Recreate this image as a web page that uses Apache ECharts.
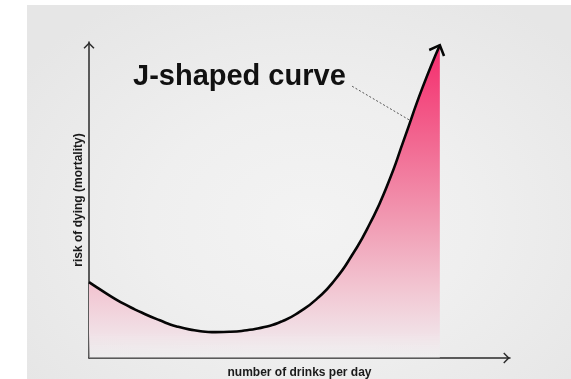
<!DOCTYPE html>
<html>
<head>
<meta charset="utf-8">
<title>J-shaped curve</title>
<script src="https://cdn.jsdelivr.net/npm/echarts@6/dist/echarts.min.js"></script>
<style>
  html, body { margin: 0; padding: 0; background: #ffffff; }
  #wrap { position: relative; width: 571px; height: 379px; overflow: hidden; }
  #panel {
    position: absolute; left: 27px; top: 5px; right: 0; bottom: 0;
    background: radial-gradient(ellipse 65% 70% at 52% 58%, #f3f3f3 0%, #efefef 45%, #e6e6e6 100%);
  }
  #chart { position: absolute; left: 0; top: 0; width: 571px; height: 379px; }
</style>
</head>
<body>
<div id="wrap">
  <div id="panel"></div>
  <div id="chart"></div>
</div>
<script>
// Drinks per day (x) and relative mortality risk (y) along the curve
const drinks = [0, 0.5, 1, 1.5, 2, 2.5, 3, 3.5, 4, 4.5, 5, 5.5, 6, 6.5, 7, 7.5, 8, 8.5, 9, 9.5, 10];
const risk   = [24, 20.4, 17.1, 14.4, 12.0, 10.0, 8.8, 8.2, 8.3, 8.8, 9.8, 11.6, 14.6, 18.8, 24.6, 32.6, 42.4, 54.6, 69.8, 85.4, 99];

// Axis extents and labels
const xMax = 12;
const yMax = 100;
const xTitle = 'number of drinks per day';
const yTitle = 'risk of dying (mortality)';

// Annotation text and the leader line from the text to the curve
const noteText = 'J-shaped curve';
const noteFrom = [7.5, 86];
const noteTo = [9.15, 75.2];

// Open chevron used for arrow heads (points up in path space)
const chevron = 'path://M0,9 L9,0 L18,9 L16.2,10.6 L9,3.4 L1.8,10.6 Z';
// Stroked chevron with its tip at the symbol centre
const curveHead = 'path://M0,10 L10,0 L20,10 M10,-10';

const points = drinks.map((d, i) => [d, risk[i]]);

const chart = echarts.init(document.getElementById('chart'), null, { renderer: 'canvas' });

const axisLine = {
  show: true,
  lineStyle: { color: '#2a2a2a', width: 1.5 },
  symbol: ['none', chevron],
  symbolSize: [11, 7],
  symbolOffset: [0, -3.5]
};

const nameFont = {
  fontFamily: 'Liberation Sans, Arial, sans-serif',
  fontWeight: 'bold',
  fontSize: 12,
  color: '#1a1a1a'
};

const option = {
  backgroundColor: 'transparent',
  animation: false,
  title: {
    text: noteText,
    left: 128,
    top: 57,
    textStyle: {
      fontFamily: 'Liberation Sans, Arial, sans-serif',
      fontWeight: 'bold',
      fontSize: 29,
      color: '#111111'
    }
  },
  grid: { left: 89, right: 61, top: 42, bottom: 21, outerBoundsMode: 'none', containLabel: false },
  xAxis: {
    type: 'value',
    min: 0,
    max: xMax,
    name: xTitle,
    nameLocation: 'middle',
    nameGap: 9,
    nameTextStyle: Object.assign({ verticalAlign: 'top' }, nameFont),
    axisLine: axisLine,
    axisTick: { show: false },
    axisLabel: { show: false },
    splitLine: { show: false }
  },
  yAxis: {
    type: 'value',
    min: 0,
    max: yMax,
    name: yTitle,
    nameLocation: 'middle',
    nameGap: 4,
    nameTextStyle: nameFont,
    axisLine: axisLine,
    axisTick: { show: false },
    axisLabel: { show: false },
    splitLine: { show: false }
  },
  series: [
    {
      type: 'line',
      data: points,
      smooth: 0.6,
      showSymbol: true,
      symbol: 'none',
      lineStyle: { color: '#050505', width: 2.6 },
      areaStyle: {
        color: {
          type: 'linear', x: 0, y: 0, x2: 0, y2: 1,
          colorStops: [
            { offset: 0, color: '#f52b6c' },
            { offset: 0.3, color: '#f26690' },
            { offset: 0.55, color: '#f198b1' },
            { offset: 0.78, color: '#f2c6d2' },
            { offset: 0.92, color: '#f1e0e6' },
            { offset: 1, color: 'rgba(241,238,240,0.4)' }
          ]
        },
        opacity: 1
      },
      markLine: {
        silent: true,
        symbol: ['none', 'none'],
        label: { show: false },
        lineStyle: { color: '#555555', type: [2, 2], width: 1 },
        data: [[{ coord: noteFrom }, { coord: noteTo }]]
      },
      z: 3
    }
  ]
};

chart.setOption(option);

// Arrow head at the end of the curve, turned along the last segment
const pEnd = chart.convertToPixel({ gridIndex: 0 }, points[points.length - 1]);
const pPrev = chart.convertToPixel({ gridIndex: 0 }, points[points.length - 2]);
const angle = Math.atan2(pEnd[0] - pPrev[0], -(pEnd[1] - pPrev[1])) * 180 / Math.PI;
const lastIdx = points.length - 1;
const dataWithHead = points.map((p, i) => i === lastIdx ? {
  value: p,
  symbol: curveHead,
  symbolSize: [16, 17],
  symbolRotate: -angle,
  itemStyle: { color: 'none', borderColor: '#050505', borderWidth: 2.6 }
} : p);
chart.setOption({ series: [{ data: dataWithHead }] });
</script>
</body>
</html>
